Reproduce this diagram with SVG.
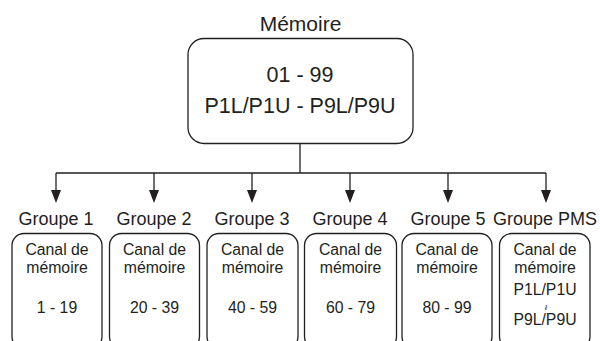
<svg xmlns="http://www.w3.org/2000/svg" width="600" height="341" viewBox="0 0 600 341">
<defs>
<style>
text{font-family:"Liberation Sans",Arial,sans-serif;fill:#231f20;text-anchor:middle}
.box{fill:#fff;stroke:#231f20;stroke-width:1.3}
.conn{fill:none;stroke:#231f20;stroke-width:1.3}
.t21{font-size:21.5px}
.t20{font-size:21px}
.t18{font-size:18px}
.t15{font-size:15.8px}
</style>
</defs>
<g id="memoire">
<text class="t20" x="300.5" y="31">Mémoire</text>
<rect class="box" x="188" y="38.5" width="225" height="105" rx="16"/>
<text class="t21" x="300" y="82">01 - 99</text>
<text class="t21" x="300" y="113">P1L/P1U - P9L/P9U</text>
</g>
<g id="connectors">
<path class="conn" d="M300,143.5 V173 M56,173 H546"/>
<path class="conn" d="M56,173 V190"/>
<path class="conn" d="M154,173 V190"/>
<path class="conn" d="M252,173 V190"/>
<path class="conn" d="M350,173 V190"/>
<path class="conn" d="M448,173 V190"/>
<path class="conn" d="M546,173 V190"/>
<g fill="#231f20">
<path d="M51,190 H61 L56,203 Z"/>
<path d="M149,190 H159 L154,203 Z"/>
<path d="M247,190 H257 L252,203 Z"/>
<path d="M345,190 H355 L350,203 Z"/>
<path d="M443,190 H453 L448,203 Z"/>
<path d="M541,190 H551 L546,203 Z"/>
</g>
</g>
<g id="groupe1">
<text class="t18" x="56" y="225">Groupe 1</text>
<rect class="box" x="12" y="233.5" width="90" height="115" rx="12"/>
<text class="t15" x="57" y="255">Canal de</text>
<text class="t15" x="57" y="273">mémoire</text>
<text class="t15" x="57" y="313">1 - 19</text>
</g>
<g id="groupe2">
<text class="t18" x="154" y="225">Groupe 2</text>
<rect class="box" x="109.5" y="233.5" width="90" height="115" rx="12"/>
<text class="t15" x="154.5" y="255">Canal de</text>
<text class="t15" x="154.5" y="273">mémoire</text>
<text class="t15" x="154.5" y="313">20 - 39</text>
</g>
<g id="groupe3">
<text class="t18" x="252" y="225">Groupe 3</text>
<rect class="box" x="207" y="233.5" width="91" height="115" rx="12"/>
<text class="t15" x="252.5" y="255">Canal de</text>
<text class="t15" x="252.5" y="273">mémoire</text>
<text class="t15" x="252.5" y="313">40 - 59</text>
</g>
<g id="groupe4">
<text class="t18" x="350" y="225">Groupe 4</text>
<rect class="box" x="304.5" y="233.5" width="92" height="115" rx="12"/>
<text class="t15" x="350.5" y="255">Canal de</text>
<text class="t15" x="350.5" y="273">mémoire</text>
<text class="t15" x="350.5" y="313">60 - 79</text>
</g>
<g id="groupe5">
<text class="t18" x="448" y="225">Groupe 5</text>
<rect class="box" x="402" y="233.5" width="90" height="115" rx="12"/>
<text class="t15" x="447" y="255">Canal de</text>
<text class="t15" x="447" y="273">mémoire</text>
<text class="t15" x="447" y="313">80 - 99</text>
</g>
<g id="groupePMS">
<text class="t18" x="545" y="225">Groupe PMS</text>
<rect class="box" x="499.5" y="233.5" width="90.5" height="115" rx="12"/>
<text class="t15" x="545" y="255">Canal de</text>
<text class="t15" x="545" y="273">mémoire</text>
<text class="t15" x="545" y="295">P1L/P1U</text>
<text x="0" y="3" font-size="10" transform="translate(545,307.5) rotate(90)">~</text>
<text class="t15" x="545" y="325">P9L/P9U</text>
</g>
</svg>
